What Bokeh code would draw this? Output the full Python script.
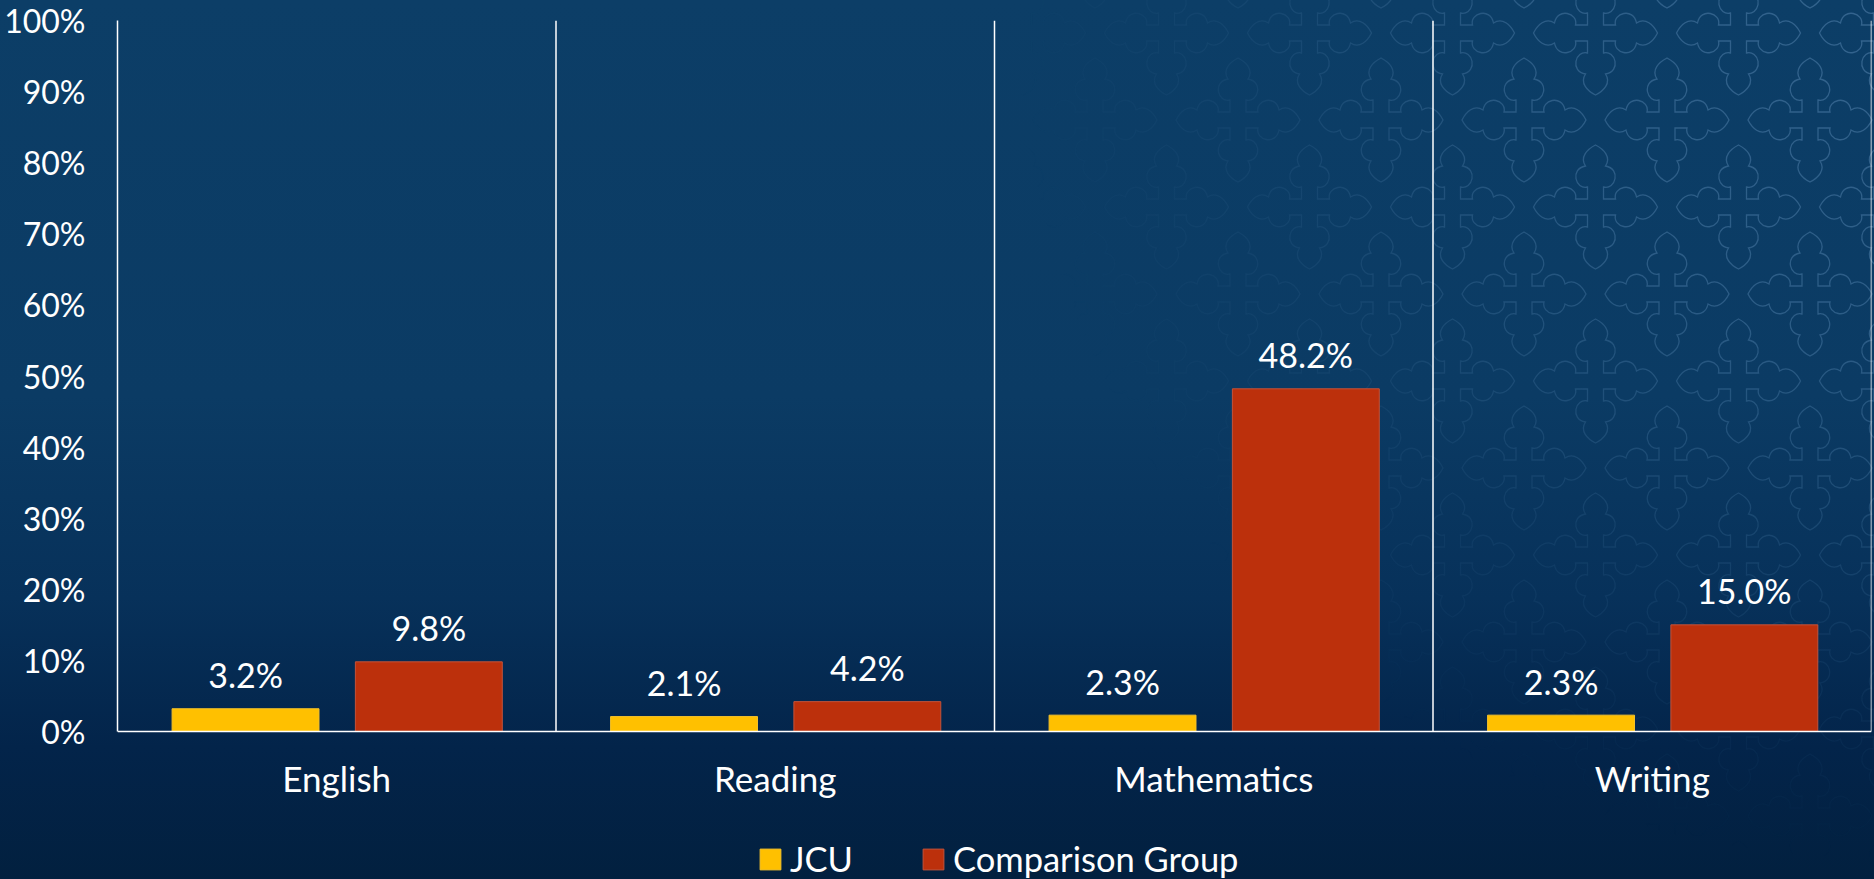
import base64
from bokeh.plotting import figure
from bokeh.models import (Range1d, FactorRange, ColumnDataSource, PrintfTickFormatter,
                          Legend, LegendItem, FixedTicker)
from bokeh.transform import dodge
from bokeh.core.properties import value
from bokeh.embed import file_html
from bokeh.resources import INLINE

# ---------------- data ----------------
categories = ["English", "Reading", "Mathematics", "Writing"]
series = ["JCU", "Comparison Group"]
jcu = [3.2, 2.1, 2.3, 2.3]
comparison = [9.8, 4.2, 48.2, 15.0]
y_ticks = [0, 10, 20, 30, 40, 50, 60, 70, 80, 90, 100]

# ---------------- style ----------------
W, H = 1874, 879
FONT = "Lato"
YELLOW = "#FFC000"
RED = "#BC300C"
TOP = 20       # px of the 100% level from the top of the canvas
ZERO_Y = 731   # px of the 0% level from the top of the canvas


def cross_path():
    arm = [("L", [(8, -20)]),
           ("C", [(20, -17), (26, -38), (10, -41)]),
           ("C", [(16, -50), (8, -58), (0, -62)]),
           ("C", [(-8, -58), (-16, -50), (-10, -41)]),
           ("C", [(-26, -38), (-20, -17), (-8, -20)]),
           ("L", [(-8, -8)])]
    rots = [lambda x, y: (x, y), lambda x, y: (y, -x),
            lambda x, y: (-x, -y), lambda x, y: (-y, x)]
    d = "M8,-8 "
    for r in rots:
        for cmd, pts in arm:
            d += cmd + " ".join("%g,%g" % r(*pt) for pt in pts) + " "
    return d + "Z"


def pattern_svg():
    d = cross_path()
    centers = [(0, 0), (143, 0), (0, 174), (143, 174), (71.5, 87)]
    paths = "".join('<path d="%s" transform="translate(%g,%g)"/>' % (d, cx, cy) for cx, cy in centers)
    svg = ('<svg xmlns="http://www.w3.org/2000/svg" width="%d" height="%d">'
           '<defs>'
           '<pattern id="p" width="143" height="174" patternUnits="userSpaceOnUse" '
           'patternTransform="translate(94,120)">'
           '<g fill="none" stroke="#34648e" stroke-width="1.3">%s</g></pattern>'
           '<radialGradient id="g" cx="%d" cy="0" r="860" gradientUnits="userSpaceOnUse">'
           '<stop offset="0" stop-color="#fff" stop-opacity="1"/>'
           '<stop offset="0.4" stop-color="#fff" stop-opacity="0.8"/>'
           '<stop offset="0.72" stop-color="#fff" stop-opacity="0.22"/>'
           '<stop offset="1" stop-color="#fff" stop-opacity="0"/>'
           '</radialGradient>'
           '<mask id="m"><rect width="%d" height="%d" fill="url(#g)"/></mask>'
           '</defs>'
           '<rect width="%d" height="%d" fill="url(#p)" mask="url(#m)"/>'
           '</svg>') % (W, H, paths, W, W, H, W, H)
    return base64.b64encode(svg.encode()).decode()


src = ColumnDataSource(dict(
    cat=categories,
    jcu=jcu,
    comp=comparison,
    jcu_lbl=["%.1f%%" % v for v in jcu],
    comp_lbl=["%.1f%%" % v for v in comparison],
    y0=[y_ticks[0]] * len(categories),
    y1=[y_ticks[-1]] * len(categories),
))

y_top = y_ticks[-1]
px_per_unit = (ZERO_Y - TOP) / (y_ticks[-1] - y_ticks[0])
y_bottom = y_ticks[0] - (H - ZERO_Y) / px_per_unit

p = figure(x_range=FactorRange(factors=categories, range_padding=0),
           y_range=Range1d(y_bottom, y_top),
           width=W, height=H, output_backend="svg", toolbar_location=None,
           min_border_left=117, min_border_right=3, min_border_top=TOP, min_border_bottom=0)

p.background_fill_color = None
p.border_fill_color = None
p.outline_line_color = None
p.styles = {
    "background-image": "url('data:image/svg+xml;base64,%s'), "
                        "linear-gradient(to bottom, #0c3e67 0%%, #0b3b64 45%%, #07315a 68%%, #03244a 85%%, #02203f 100%%)"
                        % pattern_svg(),
    "background-size": "100% 100%, 100% 100%",
    "background-repeat": "no-repeat, no-repeat",
}

# category dividers (right edge of each category), from 0% to 100%
p.segment(x0=dodge("cat", 0.5, range=p.x_range), x1=dodge("cat", 0.5, range=p.x_range),
          y0="y0", y1="y1", source=src, line_color="white", line_width=1.5)

r1 = p.vbar(x=dodge("cat", -0.208, range=p.x_range), top="jcu", width=0.335, source=src,
            fill_color=YELLOW, line_color="#F5C22A", line_width=1)
r2 = p.vbar(x=dodge("cat", 0.21, range=p.x_range), top="comp", width=0.335, source=src,
            fill_color=RED, line_color="#C4533A", line_width=1)

p.text(x=dodge("cat", -0.208, range=p.x_range), y="jcu", text="jcu_lbl", source=src,
       text_align="center", text_baseline="alphabetic", y_offset=-34,
       text_color="white", text_font=value(FONT), text_font_size="34px")
p.text(x=dodge("cat", 0.21, range=p.x_range), y="comp", text="comp_lbl", source=src,
       text_align="center", text_baseline="alphabetic", y_offset=-34,
       text_color="white", text_font=value(FONT), text_font_size="34px")

p.xgrid.grid_line_color = None
p.ygrid.grid_line_color = None

p.yaxis.ticker = FixedTicker(ticks=y_ticks)
p.yaxis.formatter = PrintfTickFormatter(format="%d%%")
p.yaxis.bounds = (y_ticks[0], y_ticks[-1])
p.xaxis.fixed_location = y_ticks[0]
for ax in (p.xaxis[0], p.yaxis[0]):
    ax.axis_line_color = "white"
    ax.axis_line_width = 1.5
    ax.major_tick_line_color = None
    ax.minor_tick_line_color = None
    ax.major_tick_out = 0
    ax.major_tick_in = 0
    ax.minor_tick_out = 0
    ax.minor_tick_in = 0
    ax.major_label_text_color = "white"
    ax.major_label_text_font = FONT
p.yaxis.major_label_text_font_size = "32px"
p.xaxis.major_label_text_font_size = "35px"
p.yaxis.major_label_standoff = 32
p.xaxis.major_label_standoff = 25

legend = Legend(items=[LegendItem(label=series[0], renderers=[r1]),
                       LegendItem(label=series[1], renderers=[r2])],
                orientation="horizontal", location=(640, 0),
                background_fill_alpha=0, border_line_color=None,
                padding=0, margin=0, spacing=67, label_standoff=7,
                glyph_width=26, glyph_height=26, label_height=26,
                label_text_color="white", label_text_font=FONT, label_text_font_size="34.5px")
p.add_layout(legend)

open("out.html", "w").write(file_html(p, INLINE))
